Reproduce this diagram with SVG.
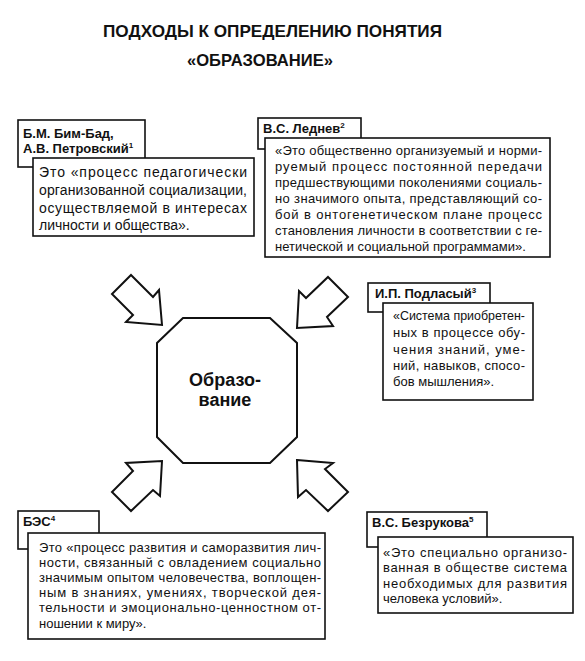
<svg xmlns="http://www.w3.org/2000/svg" width="585" height="661" viewBox="0 0 585 661">
<style>
.bg{fill:#fff}
.box{fill:#fff;stroke:#111;stroke-width:1.6}
.shape{fill:#fff;stroke:#111;stroke-width:2;stroke-linejoin:miter}
.t{font-family:"Liberation Sans",Arial,sans-serif;font-size:13px;fill:#111}
.h{font-family:"Liberation Sans",Arial,sans-serif;font-size:13px;font-weight:bold;fill:#111}
.title{font-family:"Liberation Sans",Arial,sans-serif;font-size:17px;font-weight:bold;fill:#111}
.c{font-family:"Liberation Sans",Arial,sans-serif;font-size:18px;font-weight:bold;fill:#111;text-anchor:middle}
.sup{font-size:8px}
</style>
<rect class="bg" x="0" y="0" width="585" height="661"/>
<g id="title">
<text class="title" x="103" y="37" textLength="339" lengthAdjust="spacingAndGlyphs">ПОДХОДЫ К ОПРЕДЕЛЕНИЮ ПОНЯТИЯ</text>
<text class="title" x="187" y="66" textLength="146" lengthAdjust="spacingAndGlyphs">«ОБРАЗОВАНИЕ»</text>
</g>
<g id="connectors">
<polygon class="shape" points="131,275 153,297 159,290 162,325 126,322 133,315 112,294"/>
<polygon class="shape" points="328,277 348,297 327,317 333,326 297,328 299,291 306,298"/>
<polygon class="shape" points="162,461 160,496 153,490 131,511 112,492 133,471 126,463"/>
<polygon class="shape" points="297,460 333,463 325,469 348,492 328,511 306,490 298,497"/>
</g>
<g id="center">
<polygon class="shape" points="183,318 270,318 297,343 297,437 270,463 183,463 157,437 157,343"/>
<text class="c" x="225" y="386">Образо-</text>
<text class="c" x="225" y="406">вание</text>
</g>
<g id="bimbad">
<rect class="box" x="18" y="120" width="127" height="47"/>
<text class="h" x="23" y="138">Б.М. Бим-Бад,</text>
<text class="h" x="23" y="153">А.В. Петровский<tspan class="sup" dy="-5">1</tspan></text>
<rect class="box" x="33" y="158" width="221" height="78"/>
<text class="t" style="font-size:14px" x="39" y="177" textLength="208" lengthAdjust="spacing">Это «процесс педагогически</text>
<text class="t" style="font-size:14px" x="39" y="195" textLength="208" lengthAdjust="spacing">организованной социализации,</text>
<text class="t" style="font-size:14px" x="39" y="213" textLength="208" lengthAdjust="spacing">осуществляемой в интересах</text>
<text class="t" style="font-size:14px" x="39" y="230">личности и общества».</text>
</g>
<g id="lednev">
<rect class="box" x="258" y="118" width="103" height="31"/>
<text class="h" x="263" y="133">В.С. Леднев<tspan class="sup" dy="-5">2</tspan></text>
<rect class="box" x="265" y="138" width="285" height="119"/>
<text class="t" x="275" y="155" textLength="267" lengthAdjust="spacing">«Это общественно организуемый и норми-</text>
<text class="t" x="275" y="171" textLength="267" lengthAdjust="spacing">руемый процесс постоянной передачи</text>
<text class="t" x="275" y="187" textLength="267" lengthAdjust="spacing">предшествующими поколениями социаль-</text>
<text class="t" x="275" y="203" textLength="267" lengthAdjust="spacing">но значимого опыта, представляющий со-</text>
<text class="t" x="275" y="219" textLength="267" lengthAdjust="spacing">бой в онтогенетическом плане процесс</text>
<text class="t" x="275" y="235" textLength="267" lengthAdjust="spacing">становления личности в соответствии с ге-</text>
<text class="t" x="275" y="251">нетической и социальной программами».</text>
</g>
<g id="podlasy">
<rect class="box" x="368" y="283" width="122" height="29"/>
<text class="h" x="375" y="298">И.П. Подласый<tspan class="sup" dy="-5">3</tspan></text>
<rect class="box" x="383" y="303" width="150" height="97"/>
<text class="t" x="393" y="320" textLength="132" lengthAdjust="spacingAndGlyphs">«Система приобретен-</text>
<text class="t" x="393" y="337" textLength="132" lengthAdjust="spacing">ных в процессе обу-</text>
<text class="t" x="393" y="354" textLength="132" lengthAdjust="spacing">чения знаний, уме-</text>
<text class="t" x="393" y="370" textLength="132" lengthAdjust="spacing">ний, навыков, спосо-</text>
<text class="t" x="393" y="386">бов мышления».</text>
</g>
<g id="bes">
<rect class="box" x="18" y="511" width="81" height="38"/>
<text class="h" x="23" y="526">БЭС<tspan class="sup" dy="-5">4</tspan></text>
<rect class="box" x="28" y="533" width="297" height="106"/>
<text class="t" x="39" y="552" textLength="282" lengthAdjust="spacing">Это «процесс развития и саморазвития лич-</text>
<text class="t" x="39" y="567" textLength="282" lengthAdjust="spacing">ности, связанный с овладением социально</text>
<text class="t" x="39" y="582" textLength="282" lengthAdjust="spacing">значимым опытом человечества, воплощен-</text>
<text class="t" x="39" y="597" textLength="282" lengthAdjust="spacing">ным в знаниях, умениях, творческой дея-</text>
<text class="t" x="39" y="612" textLength="282" lengthAdjust="spacing">тельности и эмоционально-ценностном от-</text>
<text class="t" x="39" y="628">ношении к миру».</text>
</g>
<g id="bezrukova">
<rect class="box" x="367" y="512" width="120" height="35"/>
<text class="h" x="372" y="527">В.С. Безрукова<tspan class="sup" dy="-5">5</tspan></text>
<rect class="box" x="378" y="537" width="195" height="76"/>
<text class="t" x="383" y="557" textLength="184" lengthAdjust="spacing">«Это специально организо-</text>
<text class="t" x="383" y="572" textLength="184" lengthAdjust="spacing">ванная в обществе система</text>
<text class="t" x="383" y="588" textLength="184" lengthAdjust="spacing">необходимых для развития</text>
<text class="t" x="383" y="603">человека условий».</text>
</g>
</svg>
